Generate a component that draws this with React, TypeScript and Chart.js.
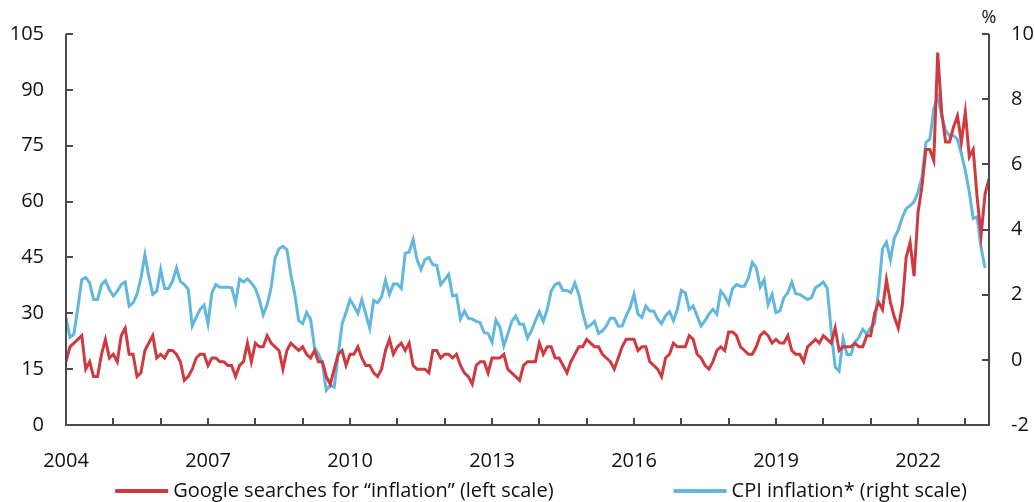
import React, { useEffect, useRef } from 'react';
import { Chart, registerables } from 'chart.js';

Chart.register(...registerables);

const START_YEAR = 2004;

// Google searches for "inflation" (left scale), monthly from Jan 2004
const googleSearches: number[] = [
  17, 21, 22, 23, 24, 15, 17, 13, 13, 19, 23, 18,
  19, 17, 24, 26, 19, 19, 13, 14, 20, 22, 24, 18,
  19, 18, 20, 20, 19, 17, 12, 13, 15, 18, 19, 19,
  16, 18, 18, 17, 17, 16, 16, 13, 16, 17, 22, 17,
  22, 21, 21, 24, 22, 21, 20, 15, 20, 22, 21, 20,
  21, 19, 18, 20, 17, 17, 13, 11, 15, 19, 20, 16,
  19, 19, 21, 18, 16, 16, 14, 13, 15, 20, 23, 19,
  21, 22, 20, 22, 16, 15, 15, 15, 14, 20, 20, 18,
  19, 19, 18, 19, 16, 14, 13, 11, 16, 17, 17, 14,
  18, 18, 18, 19, 15, 14, 13, 12, 16, 17, 17, 17,
  22, 19, 21, 21, 18, 18, 16, 14, 17, 19, 21, 21,
  23, 22, 21, 21, 19, 18, 17, 15, 18, 21, 23, 23,
  23, 20, 21, 21, 17, 16, 15, 13, 18, 19, 22, 21,
  21, 21, 24, 23, 19, 18, 16, 15, 17, 20, 21, 20,
  25, 25, 24, 21, 20, 19, 19, 21, 24, 25, 24, 22,
  23, 22, 22, 24, 20, 19, 19, 17, 21, 22, 23, 22,
  24, 23, 22, 26, 20, 21, 21, 21, 22, 21, 21, 24,
  24, 30, 33, 31, 39, 33, 29, 26, 32, 45, 49, 40,
  57, 64, 74, 74, 71, 100, 84, 76, 76, 80, 83, 76,
  84, 72, 74, 61, 51, 62, 66,
];

// CPI inflation* (right scale, %), monthly from Jan 2004
const cpiInflation: number[] = [
  1.30, 0.69, 0.79, 1.60, 2.46, 2.53, 2.36, 1.85, 1.85, 2.31, 2.43, 2.16,
  1.96, 2.11, 2.31, 2.39, 1.65, 1.75, 2.01, 2.51, 3.22, 2.56, 2.01, 2.11,
  2.77, 2.19, 2.19, 2.41, 2.82, 2.41, 2.31, 2.16, 1.04, 1.30, 1.55, 1.68,
  1.11, 2.06, 2.31, 2.23, 2.23, 2.23, 2.21, 1.75, 2.48, 2.39, 2.48, 2.36,
  2.19, 1.85, 1.38, 1.70, 2.21, 3.12, 3.41, 3.48, 3.38, 2.62, 2.01, 1.20,
  1.11, 1.45, 1.25, 0.38, 0.18, -0.12, -0.93, -0.78, -0.84, 0.15, 1.10, 1.45,
  1.85, 1.65, 1.42, 1.85, 1.40, 0.97, 1.82, 1.75, 1.93, 2.44, 2.01, 2.33,
  2.33, 2.19, 3.27, 3.31, 3.69, 3.07, 2.77, 3.07, 3.14, 2.92, 2.90, 2.31,
  2.46, 2.62, 1.96, 1.99, 1.25, 1.50, 1.28, 1.25, 1.18, 1.14, 0.84, 0.81,
  0.54, 1.22, 1.01, 0.43, 0.79, 1.18, 1.35, 1.09, 1.09, 0.67, 0.89, 1.20,
  1.48, 1.18, 1.55, 2.11, 2.31, 2.36, 2.13, 2.13, 2.06, 2.36, 2.01, 1.45,
  0.99, 1.07, 1.18, 0.81, 0.89, 1.04, 1.28, 1.28, 1.04, 1.04, 1.35, 1.60,
  2.01, 1.40, 1.30, 1.65, 1.50, 1.50, 1.25, 1.11, 1.35, 1.48, 1.20, 1.55,
  2.13, 2.06, 1.55, 1.65, 1.35, 1.04, 1.20, 1.40, 1.55, 1.40, 2.11, 1.96,
  1.72, 2.19, 2.31, 2.26, 2.26, 2.51, 2.99, 2.82, 2.23, 2.46, 1.70, 2.01,
  1.45, 1.50, 1.91, 2.06, 2.39, 2.03, 2.01, 1.93, 1.85, 1.91, 2.21, 2.29,
  2.39, 2.19, 0.89, -0.22, -0.35, 0.64, 0.16, 0.16, 0.54, 0.69, 0.94, 0.79,
  0.99, 1.11, 2.11, 3.41, 3.61, 3.07, 3.73, 3.99, 4.36, 4.64, 4.73, 4.85,
  5.15, 5.61, 6.67, 6.77, 7.69, 8.09, 7.48, 7.03, 6.88, 6.88, 6.77, 6.32,
  5.81, 5.15, 4.34, 4.39, 3.43, 2.82,
];

const xLabelYears: number[] = [2004, 2007, 2010, 2013, 2016, 2019, 2022];
const xTickYears: number[] = Array.from({ length: 20 }, (_, i) => START_YEAR + i);
const X_MIN = 2004;
const X_MAX = 2023.5;
const LEFT_MIN = 0, LEFT_MAX = 105, LEFT_STEP = 15;
const RIGHT_MIN = -2, RIGHT_MAX = 10, RIGHT_STEP = 2;

const seriesNames = ['Google searches for \u201Cinflation\u201D (left scale)', 'CPI inflation* (right scale)'];
const RED = '#cf3a40';
const BLUE = '#62b7df';
const AXIS = '#4a4a4a';
const TEXT = '#111111';
const FONT = '"Open Sans", "Noto Sans", sans-serif';

const toPoints = (values: number[]) => values.map((v, i) => ({ x: START_YEAR + i / 12, y: v }));

const decorPlugin = {
  id: 'decor',
  afterDraw(chart: any) {
    const { ctx, chartArea, scales } = chart;
    const { left, right, top, bottom } = chartArea;
    ctx.save();
    ctx.strokeStyle = AXIS;
    ctx.lineWidth = 2;
    ctx.lineCap = 'butt';
    ctx.beginPath();
    ctx.moveTo(left, top);
    ctx.lineTo(left, bottom);
    ctx.lineTo(right, bottom);
    ctx.lineTo(right, top);
    ctx.stroke();

    const tl = 7;
    ctx.beginPath();
    xTickYears.forEach((yr) => {
      const px = Math.round(scales.x.getPixelForValue(yr));
      ctx.moveTo(px, bottom);
      ctx.lineTo(px, bottom - tl);
    });
    scales.y.ticks.forEach((t: any) => {
      const py = Math.round(scales.y.getPixelForValue(t.value));
      ctx.moveTo(left, py);
      ctx.lineTo(left + tl, py);
    });
    scales.y1.ticks.forEach((t: any) => {
      const py = Math.round(scales.y1.getPixelForValue(t.value));
      ctx.moveTo(right, py);
      ctx.lineTo(right - tl, py);
    });
    ctx.stroke();

    ctx.fillStyle = TEXT;
    ctx.font = `18px ${FONT}`;
    ctx.textAlign = 'center';
    ctx.textBaseline = 'middle';
    ctx.fillText('%', right, 18);

    // legend
    ctx.font = `20px ${FONT}`;
    ctx.textAlign = 'left';
    const lineLen = 53, gap = 5, itemGap = 120;
    const colors = [RED, BLUE];
    const widths = seriesNames.map((n) => ctx.measureText(n).width);
    const total = widths.reduce((a, w) => a + lineLen + gap + w, 0) + itemGap;
    let cx = 541 - total / 2;
    const ly = 491;
    seriesNames.forEach((n, i) => {
      ctx.strokeStyle = colors[i];
      ctx.lineWidth = 4;
      ctx.beginPath();
      ctx.moveTo(cx, ly);
      ctx.lineTo(cx + lineLen, ly);
      ctx.stroke();
      ctx.fillText(n, cx + lineLen + gap, ly);
      cx += lineLen + gap + widths[i] + itemGap;
    });
    ctx.restore();
  },
};

export default function App() {
  const ref = useRef<HTMLCanvasElement | null>(null);

  useEffect(() => {
    document.body.style.margin = '0';
    const canvas = ref.current;
    if (!canvas) return;
    const tickFont = { family: FONT, size: 20 };
    const chart = new Chart(canvas, {
      type: 'line',
      data: {
        datasets: [
          {
            label: seriesNames[0],
            data: toPoints(googleSearches),
            borderColor: RED,
            backgroundColor: RED,
            borderWidth: 3,
            pointRadius: 0,
            tension: 0,
            yAxisID: 'y',
          },
          {
            label: seriesNames[1],
            data: toPoints(cpiInflation),
            borderColor: BLUE,
            backgroundColor: BLUE,
            borderWidth: 3,
            pointRadius: 0,
            tension: 0,
            yAxisID: 'y1',
          },
        ],
      },
      options: {
        animation: false,
        responsive: false,
        maintainAspectRatio: false,
        layout: { padding: { top: 31, left: 0, right: 0, bottom: 0 } },
        plugins: { legend: { display: false }, tooltip: { enabled: false } },
        scales: {
          x: {
            type: 'linear',
            min: X_MIN,
            max: X_MAX,
            afterBuildTicks: (s: any) => {
              s.ticks = xLabelYears.map((v) => ({ value: v }));
            },
            ticks: {
              autoSkip: false,
              maxRotation: 0,
              minRotation: 0,
              padding: 24,
              color: TEXT,
              font: tickFont,
              callback: (v: any) => String(v),
            },
            grid: { display: false, drawTicks: false },
            border: { display: false },
            afterFit: (s: any) => {
              s.height = 77;
            },
          },
          y: {
            type: 'linear',
            position: 'left',
            min: LEFT_MIN,
            max: LEFT_MAX,
            ticks: { stepSize: LEFT_STEP, padding: 22, color: TEXT, font: tickFont },
            grid: { display: false, drawTicks: false },
            border: { display: false },
            afterFit: (s: any) => {
              s.width = 66;
            },
          },
          y1: {
            type: 'linear',
            position: 'right',
            min: RIGHT_MIN,
            max: RIGHT_MAX,
            ticks: { stepSize: RIGHT_STEP, padding: 22, color: TEXT, font: tickFont },
            grid: { display: false, drawTicks: false },
            border: { display: false },
            afterFit: (s: any) => {
              s.width = 46;
            },
          },
        },
      },
      plugins: [decorPlugin],
    });
    return () => chart.destroy();
  }, []);

  return (
    <div style={{ position: 'fixed', left: 0, top: 0, width: 1035, height: 502, background: '#fff' }}>
      <canvas ref={ref} width={1035} height={502} style={{ display: 'block' }} />
    </div>
  );
}
